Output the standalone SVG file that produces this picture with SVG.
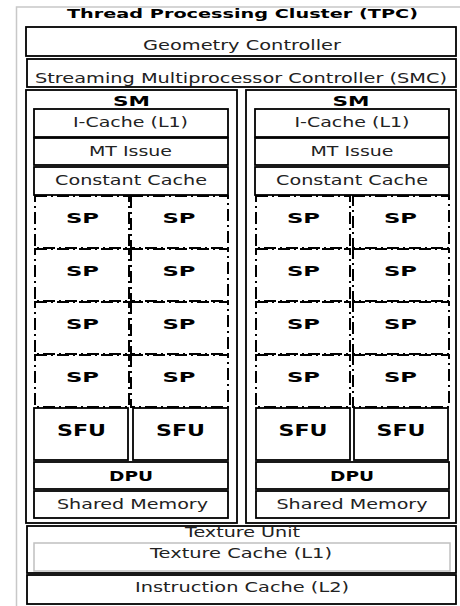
<svg xmlns="http://www.w3.org/2000/svg" width="460" height="606" viewBox="0 0 460 606">
<style>
.box{fill:#fff;stroke:#000;stroke-width:1.8}
.sm{fill:#fff;stroke:#000;stroke-width:1.8}
.sp{fill:#fff;stroke:#000;stroke-width:2;stroke-dasharray:12 4 2 4}
.t{font-family:"DejaVu Sans","Liberation Sans",sans-serif;font-size:13.5px;fill:#222;text-anchor:middle}
.b{font-family:"DejaVu Sans","Liberation Sans",sans-serif;font-size:14px;font-weight:bold;fill:#000;text-anchor:middle}
.f{font-size:15px}
.h{font-size:13px}
</style>
<rect width="460" height="606" fill="#fff"/>
<g id="tpc">
<rect x="16.5" y="7" width="470" height="640" fill="#fff" stroke="#c8c8c8" stroke-width="1.5"/>
<text class="b h" x="242.5" y="18" textLength="351" lengthAdjust="spacingAndGlyphs">Thread Processing Cluster (TPC)</text>
</g>
<g id="geometry">
<rect class="box" x="26" y="27" width="430" height="29"/>
<text class="t" x="242" y="50" textLength="198" lengthAdjust="spacingAndGlyphs">Geometry Controller</text>
</g>
<g id="smc">
<rect class="box" x="27" y="59" width="429" height="28"/>
<text class="t" x="241" y="82.5" textLength="412" lengthAdjust="spacingAndGlyphs">Streaming Multiprocessor Controller (SMC)</text>
</g>
<g id="sm1">
<rect class="sm" x="26" y="90" width="211" height="433"/>
<text class="b" x="131.5" y="106" textLength="37" lengthAdjust="spacingAndGlyphs">SM</text>
<rect class="box" x="34" y="109" width="194" height="28"/>
<text class="t" x="130.5" y="127" textLength="115" lengthAdjust="spacingAndGlyphs">I-Cache (L1)</text>
<rect class="box" x="34" y="138" width="194" height="27"/>
<text class="t" x="130.5" y="156" textLength="83" lengthAdjust="spacingAndGlyphs">MT Issue</text>
<rect class="box" x="34" y="167" width="194" height="28"/>
<text class="t" x="131" y="185" textLength="152" lengthAdjust="spacingAndGlyphs">Constant Cache</text>
<g id="sm1-sp">
<rect class="sp" x="35" y="196" width="94" height="52"/><text class="b" x="82.5" y="222.5" textLength="33" lengthAdjust="spacingAndGlyphs">SP</text>
<rect class="sp" x="131" y="196" width="97" height="52"/><text class="b" x="179" y="222.5" textLength="33" lengthAdjust="spacingAndGlyphs">SP</text>
<rect class="sp" x="35" y="249" width="94" height="52"/><text class="b" x="82.5" y="275.5" textLength="33" lengthAdjust="spacingAndGlyphs">SP</text>
<rect class="sp" x="131" y="249" width="97" height="52"/><text class="b" x="179" y="275.5" textLength="33" lengthAdjust="spacingAndGlyphs">SP</text>
<rect class="sp" x="35" y="302" width="94" height="52"/><text class="b" x="82.5" y="328.5" textLength="33" lengthAdjust="spacingAndGlyphs">SP</text>
<rect class="sp" x="131" y="302" width="97" height="52"/><text class="b" x="179" y="328.5" textLength="33" lengthAdjust="spacingAndGlyphs">SP</text>
<rect class="sp" x="35" y="355" width="94" height="52"/><text class="b" x="82.5" y="381.5" textLength="33" lengthAdjust="spacingAndGlyphs">SP</text>
<rect class="sp" x="131" y="355" width="97" height="52"/><text class="b" x="179" y="381.5" textLength="33" lengthAdjust="spacingAndGlyphs">SP</text>
</g>
<rect class="box" x="34" y="408" width="94" height="52"/>
<text class="b f" x="81.5" y="436" textLength="49" lengthAdjust="spacingAndGlyphs">SFU</text>
<rect class="box" x="133" y="408" width="95" height="52"/>
<text class="b f" x="180.5" y="436" textLength="49" lengthAdjust="spacingAndGlyphs">SFU</text>
<rect class="box" x="34" y="462" width="194" height="27"/>
<text class="b" x="131" y="480.5" textLength="44" lengthAdjust="spacingAndGlyphs">DPU</text>
<rect class="box" x="34" y="491" width="194" height="27"/>
<text class="t" x="132.5" y="509" textLength="151" lengthAdjust="spacingAndGlyphs">Shared Memory</text>
</g>
<g id="sm2">
<rect class="sm" x="246" y="90" width="210" height="433"/>
<text class="b" x="351" y="106" textLength="37" lengthAdjust="spacingAndGlyphs">SM</text>
<rect class="box" x="255" y="109" width="194" height="28"/>
<text class="t" x="352" y="127" textLength="115" lengthAdjust="spacingAndGlyphs">I-Cache (L1)</text>
<rect class="box" x="255" y="138" width="194" height="27"/>
<text class="t" x="352" y="156" textLength="83" lengthAdjust="spacingAndGlyphs">MT Issue</text>
<rect class="box" x="255" y="167" width="194" height="28"/>
<text class="t" x="352" y="185" textLength="152" lengthAdjust="spacingAndGlyphs">Constant Cache</text>
<g id="sm2-sp">
<rect class="sp" x="256" y="196" width="94" height="52"/><text class="b" x="303.5" y="222.5" textLength="33" lengthAdjust="spacingAndGlyphs">SP</text>
<rect class="sp" x="353" y="196" width="96" height="52"/><text class="b" x="400.5" y="222.5" textLength="33" lengthAdjust="spacingAndGlyphs">SP</text>
<rect class="sp" x="256" y="249" width="94" height="52"/><text class="b" x="303.5" y="275.5" textLength="33" lengthAdjust="spacingAndGlyphs">SP</text>
<rect class="sp" x="353" y="249" width="96" height="52"/><text class="b" x="400.5" y="275.5" textLength="33" lengthAdjust="spacingAndGlyphs">SP</text>
<rect class="sp" x="256" y="302" width="94" height="52"/><text class="b" x="303.5" y="328.5" textLength="33" lengthAdjust="spacingAndGlyphs">SP</text>
<rect class="sp" x="353" y="302" width="96" height="52"/><text class="b" x="400.5" y="328.5" textLength="33" lengthAdjust="spacingAndGlyphs">SP</text>
<rect class="sp" x="256" y="355" width="94" height="52"/><text class="b" x="303.5" y="381.5" textLength="33" lengthAdjust="spacingAndGlyphs">SP</text>
<rect class="sp" x="353" y="355" width="96" height="52"/><text class="b" x="400.5" y="381.5" textLength="33" lengthAdjust="spacingAndGlyphs">SP</text>
</g>
<rect class="box" x="256" y="408" width="94" height="52"/>
<text class="b f" x="303" y="436" textLength="49" lengthAdjust="spacingAndGlyphs">SFU</text>
<rect class="box" x="354" y="408" width="94" height="52"/>
<text class="b f" x="401" y="436" textLength="49" lengthAdjust="spacingAndGlyphs">SFU</text>
<rect class="box" x="256" y="462" width="193" height="27"/>
<text class="b" x="352" y="480.5" textLength="44" lengthAdjust="spacingAndGlyphs">DPU</text>
<rect class="box" x="256" y="491" width="193" height="27"/>
<text class="t" x="352" y="509" textLength="151" lengthAdjust="spacingAndGlyphs">Shared Memory</text>
</g>
<g id="texture-unit">
<rect class="box" x="27" y="526" width="429" height="47"/>
<text class="t" x="242.5" y="537" textLength="115" lengthAdjust="spacingAndGlyphs">Texture Unit</text>
<g id="texture-cache">
<rect x="34" y="543" width="416" height="28" fill="#fff" stroke="#c0c0c0" stroke-width="1.5"/>
<text class="t" x="241" y="558" textLength="182" lengthAdjust="spacingAndGlyphs">Texture Cache (L1)</text>
</g>
</g>
<g id="instruction-cache">
<rect class="box" x="27" y="575" width="429" height="29"/>
<text class="t" x="242" y="592" textLength="214" lengthAdjust="spacingAndGlyphs">Instruction Cache (L2)</text>
</g>
<g id="connectors"/>
</svg>
